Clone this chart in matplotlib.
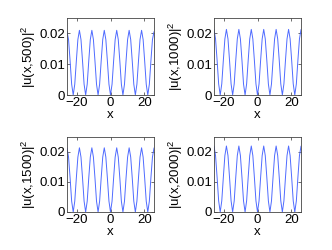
import matplotlib
matplotlib.use("Agg")
import matplotlib.pyplot as plt

# sample positions along x
x = [-25.6, -24.69, -23.77, -22.86, -21.94, -21.03, -20.11, -19.2,
     -18.29, -17.37, -16.46, -15.54, -14.63, -13.71, -12.8, -11.89,
     -10.97, -10.06, -9.14, -8.23, -7.31, -6.4, -5.49, -4.57,
     -3.66, -2.74, -1.83, -0.91, 0.0, 0.91, 1.83, 2.74,
     3.66, 4.57, 5.49, 6.4, 7.31, 8.23, 9.14, 10.06,
     10.97, 11.89, 12.8, 13.71, 14.63, 15.54, 16.46, 17.37,
     18.29, 19.2, 20.11, 21.03, 21.94, 22.86, 23.77, 24.69, 25.6]

u500 = [0.0205, 0.018, 0.011, 0.0035, 0.0, 0.0035, 0.011, 0.018,
        0.021, 0.018, 0.011, 0.0035, 0.0, 0.0035, 0.011, 0.018,
        0.021, 0.018, 0.011, 0.0035, 0.0, 0.0035, 0.011, 0.018,
        0.021, 0.018, 0.011, 0.0035, 0.0, 0.0035, 0.011, 0.018,
        0.021, 0.018, 0.011, 0.0035, 0.0, 0.0035, 0.011, 0.018,
        0.021, 0.018, 0.011, 0.0035, 0.0, 0.0035, 0.011, 0.018,
        0.021, 0.018, 0.011, 0.0035, 0.0, 0.0035, 0.011, 0.018, 0.0205]

u1000 = [0.0212, 0.0182, 0.0112, 0.0036, 0.0, 0.0036, 0.0112, 0.0182,
         0.0213, 0.0182, 0.0112, 0.0036, 0.0, 0.0036, 0.0112, 0.0182,
         0.0213, 0.0182, 0.0112, 0.0036, 0.0, 0.0036, 0.0112, 0.0182,
         0.0213, 0.0182, 0.0112, 0.0036, 0.0, 0.0036, 0.0112, 0.0182,
         0.0213, 0.0182, 0.0112, 0.0036, 0.0, 0.0036, 0.0112, 0.0182,
         0.0213, 0.0182, 0.0112, 0.0036, 0.0, 0.0036, 0.0112, 0.0182,
         0.0213, 0.0182, 0.0112, 0.0036, 0.0, 0.0036, 0.0112, 0.0182, 0.0212]

u1500 = [0.0213, 0.0183, 0.0113, 0.0036, 0.0, 0.0036, 0.0113, 0.0183,
         0.0214, 0.0183, 0.0113, 0.0036, 0.0, 0.0036, 0.0113, 0.0183,
         0.0214, 0.0183, 0.0113, 0.0036, 0.0, 0.0036, 0.0113, 0.0183,
         0.0214, 0.0183, 0.0113, 0.0036, 0.0, 0.0036, 0.0113, 0.0183,
         0.0214, 0.0183, 0.0113, 0.0036, 0.0, 0.0036, 0.0113, 0.0183,
         0.0214, 0.0183, 0.0113, 0.0036, 0.0, 0.0036, 0.0113, 0.0183,
         0.0214, 0.0183, 0.0113, 0.0036, 0.0, 0.0036, 0.0113, 0.0183, 0.0213]

u2000 = [0.0219, 0.0188, 0.0115, 0.0037, 0.0, 0.0037, 0.0115, 0.0188,
         0.022, 0.0188, 0.0115, 0.0037, 0.0, 0.0037, 0.0115, 0.0188,
         0.022, 0.0188, 0.0115, 0.0037, 0.0, 0.0037, 0.0115, 0.0188,
         0.022, 0.0188, 0.0115, 0.0037, 0.0, 0.0037, 0.0115, 0.0188,
         0.022, 0.0188, 0.0115, 0.0037, 0.0, 0.0037, 0.0115, 0.0188,
         0.022, 0.0188, 0.0115, 0.0037, 0.0, 0.0037, 0.0115, 0.0188,
         0.022, 0.0188, 0.0115, 0.0037, 0.0, 0.0037, 0.0115, 0.0188, 0.0219]

times = ["500", "1000", "1500", "2000"]
series = [u500, u1000, u1500, u2000]

plt.rcParams["font.family"] = ["Liberation Sans", "DejaVu Sans"]
plt.rcParams["mathtext.fontset"] = "custom"
plt.rcParams["mathtext.rm"] = "Liberation Sans"

W, H = 332, 250
fig = plt.figure(figsize=(W / 100, H / 100), dpi=100)

# axes boxes in pixels: left, top, right, bottom
boxes = [(67, 18, 154, 95), (214, 18, 301, 95),
         (67, 137, 154, 212), (214, 137, 301, 212)]

for (l, t, r, b), tt, y in zip(boxes, times, series):
    ax = fig.add_axes([l / W, 1 - b / H, (r - l) / W, (b - t) / H])
    ax.plot(x, y, color="#4f6bff", linewidth=0.7)
    ax.set_xlim(-25.6, 25.6)
    ax.set_ylim(0, 0.025)
    ax.set_xticks([-20, 0, 20])
    ax.set_xticklabels(["\u221220", "0", "20"])
    ax.set_yticks([0, 0.01, 0.02])
    ax.set_yticklabels(["0", "0.01", "0.02"])
    ax.tick_params(direction="in", length=2.5, width=0.5, labelsize=9.5,
                   pad=1.5, top=True, right=True, colors="#333333",
                   labelcolor="black")
    for s in ax.spines.values():
        s.set_linewidth(0.6)
        s.set_color("#444444")
    ax.set_xlabel("x", fontsize=9.5, labelpad=0)
    ax.set_ylabel("|u(x," + tt + ")|$^2$", fontsize=9.5, labelpad=1)

fig.savefig("out.png", dpi=100)
